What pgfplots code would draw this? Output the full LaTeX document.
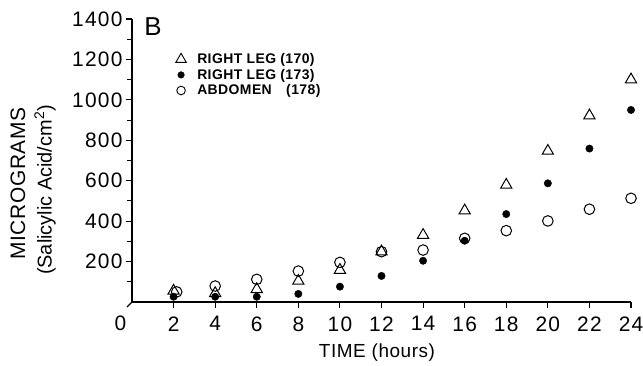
\documentclass[border=0pt]{standalone}
\usepackage{fontspec}
\setmainfont{Liberation Sans}
\usepackage{pgfplots}
\pgfplotsset{compat=1.18}
\begin{document}
\begin{tikzpicture}[x=1bp,y=1bp]
\begin{axis}[
  at={(132bp,63bp)}, anchor=south west,
  scale only axis, width=499bp, height=283bp,
  xmin=0, xmax=24, ymin=0, ymax=1400,
  axis x line*=bottom, axis y line*=left,
  axis line style={line width=1.2bp, black, -},
  xtick={2,4,...,24}, ytick={200,400,...,1400}, minor ytick={100,300,...,1300},
  tick align=outside, major tick length=6bp, minor tick length=5bp,
  tick style={line width=1.1bp, black},
  ticklabel style={font=\fontsize{21}{21}\selectfont\addfontfeatures{LetterSpace=6}},
  xticklabel style={yshift=-5bp},
  /pgf/number format/assume math mode=true,
  /pgf/number format/1000 sep={},
  clip=false,
  legend cell align=left,
  legend style={draw=none, fill=none, anchor=north west, at={(axis cs:2.1,1240)},
    font=\fontsize{14}{15.5}\selectfont\bfseries\addfontfeatures{LetterSpace=3},
    row sep=0bp, inner sep=0pt},
]
\addlegendimage{only marks, mark=triangle, mark size=6bp, black, mark options={line width=0.9bp}}
\addlegendentry{\hspace*{9bp}RIGHT LEG (170)}
\addlegendimage{only marks, mark=*, mark size=3.3bp, black}
\addlegendentry{\hspace*{9bp}RIGHT LEG (173)}
\addlegendimage{only marks, mark=o, mark size=4.3bp, black, mark options={line width=0.9bp}}
\addlegendentry{\hspace*{9bp}\makebox[89bp][l]{ABDOMEN}(178)}
\addplot[forget plot, only marks, mark=triangle, mark size=6.5bp, black, mark options={line width=1bp}]
  coordinates {(2,55) (4,43) (6,63) (8,104) (10,158) (12,249) (14,331) (16,452) (18,579) (20,747) (22,922) (24,1100)};
\addplot[forget plot, only marks, mark=*, mark size=3.7bp, black]
  coordinates {(2,26) (4,26) (6,26) (8,40) (10,76) (12,129) (14,204) (16,303) (18,435) (20,587) (22,759) (24,950)};
\addplot[forget plot, only marks, mark=o, mark size=5.3bp, black, mark options={line width=1bp}]
  coordinates {(2.15,50) (4,79) (6,112) (8,153) (10,196) (12,249) (14,257) (16,315) (18,353) (20,401) (22,459) (24,513)};
\end{axis}
\draw[line width=1.1bp] (132,63) -- (127,58);
\node[font=\fontsize{21}{21}\selectfont] at (120.5,42) {0};
\node[font=\fontsize{26}{26}\selectfont] at (153,338) {B};
\node[rotate=90, font=\fontsize{21}{21}\selectfont\addfontfeatures{LetterSpace=3}] at (18,181.5) {MICROGRAMS};
\node[rotate=90, font=\fontsize{20}{20}\selectfont] at (45,175) {(Salicylic Acid/cm\textsuperscript{2})};
\node[font=\fontsize{19}{19}\selectfont\addfontfeatures{LetterSpace=3}] at (377,12) {TIME (hours)};
\pgfresetboundingbox
\path[use as bounding box] (0,0) rectangle (643,365);
\end{tikzpicture}
\end{document}
